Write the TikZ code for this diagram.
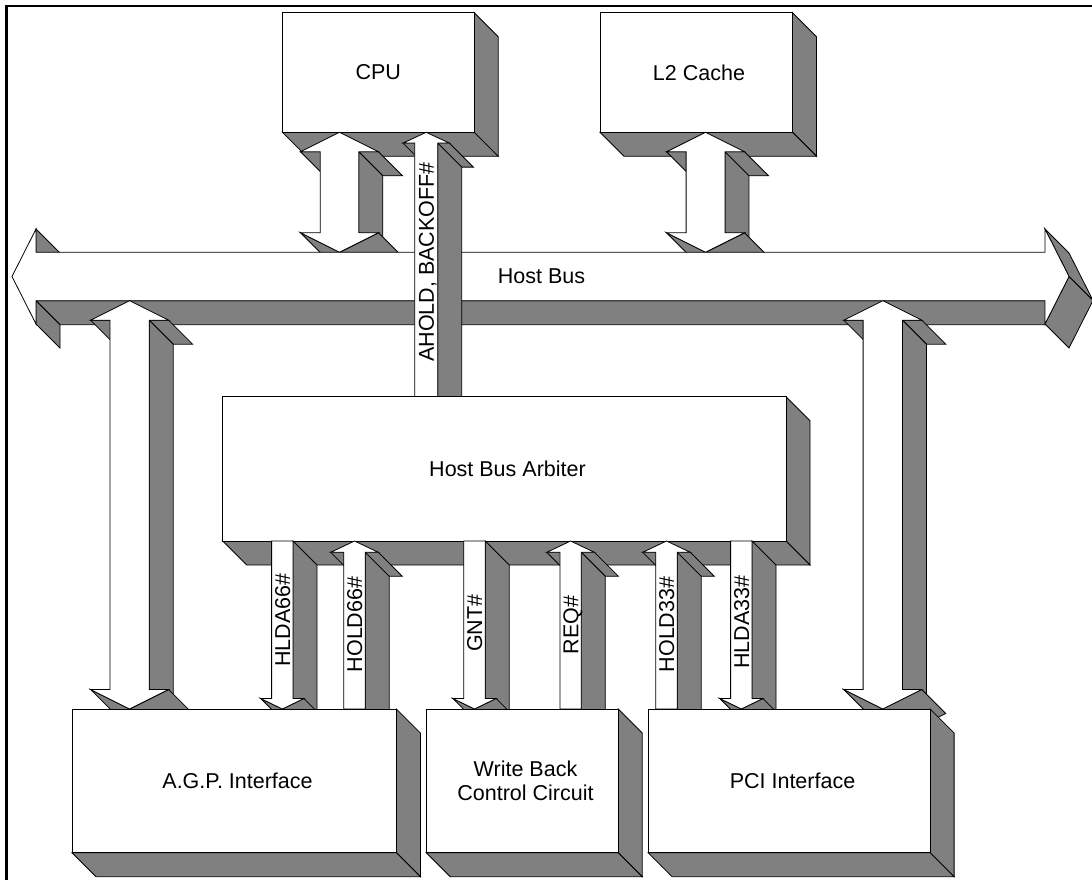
\documentclass[tikz,border=0pt]{standalone}
\usepackage{fontspec}
\setmainfont{Liberation Sans}
\definecolor{shadegray}{RGB}{128,128,128}
\tikzset{
  face/.style={fill=shadegray, draw=black, line width=0.8pt, line join=miter},
  front/.style={fill=white, draw=black, line width=0.8pt, line join=miter},
  lbl/.style={font=\fontsize{21.5}{24.3}\selectfont, inner sep=0pt, align=center},
  rot/.style={lbl, rotate=90, text height=15.4pt, text depth=0pt},
}
\def\dd{24}
% extruded box: x0 y0 x1 y1
\newcommand\BoxX[4]{%
  \filldraw[face] (#3,#2) -- ({#3+\dd},{#2+\dd}) -- ({#3+\dd},{#4+\dd}) -- (#3,#4) -- cycle;
  \filldraw[face] (#1,#4) -- (#3,#4) -- ({#3+\dd},{#4+\dd}) -- ({#1+\dd},{#4+\dd}) -- cycle;
  \filldraw[front] (#1,#2) rectangle (#3,#4);
}
% double vertical arrow: cx ytop ybot w h L
\newcommand\ArrDbl[6]{%
  \filldraw[face] ({#1-#5},{#2+#6}) -- ({#1-#4},{#2+#6}) -- ({#1-#4+\dd},{#2+#6+\dd}) -- ({#1-#5+\dd},{#2+#6+\dd}) -- cycle;
  \filldraw[face] ({#1+#4},{#2+#6}) -- ({#1+#5},{#2+#6}) -- ({#1+#5+\dd},{#2+#6+\dd}) -- ({#1+#4+\dd},{#2+#6+\dd}) -- cycle;
  \filldraw[face] ({#1+#4},{#2+#6}) -- ({#1+#4},{#3-#6}) -- ({#1+#4+\dd},{#3-#6+\dd}) -- ({#1+#4+\dd},{#2+#6+\dd}) -- cycle;
  \filldraw[face] ({#1-#5},{#3-#6}) -- (#1,#3) -- ({#1+\dd},{#3+\dd}) -- ({#1-#5+\dd},{#3-#6+\dd}) -- cycle;
  \filldraw[face] (#1,#3) -- ({#1+#5},{#3-#6}) -- ({#1+#5+\dd},{#3-#6+\dd}) -- ({#1+\dd},{#3+\dd}) -- cycle;
  \filldraw[front] (#1,#2) -- ({#1+#5},{#2+#6}) -- ({#1+#4},{#2+#6}) -- ({#1+#4},{#3-#6}) -- ({#1+#5},{#3-#6}) -- (#1,#3) -- ({#1-#5},{#3-#6}) -- ({#1-#4},{#3-#6}) -- ({#1-#4},{#2+#6}) -- ({#1-#5},{#2+#6}) -- cycle;
}
% up arrow: cx ytop ybot w h L
\newcommand\ArrUp[6]{%
  \filldraw[face] ({#1-#5},{#2+#6}) -- ({#1-#4},{#2+#6}) -- ({#1-#4+\dd},{#2+#6+\dd}) -- ({#1-#5+\dd},{#2+#6+\dd}) -- cycle;
  \filldraw[face] ({#1+#4},{#2+#6}) -- ({#1+#5},{#2+#6}) -- ({#1+#5+\dd},{#2+#6+\dd}) -- ({#1+#4+\dd},{#2+#6+\dd}) -- cycle;
  \filldraw[face] ({#1+#4},{#2+#6}) -- ({#1+#4},#3) -- ({#1+#4+\dd},{#3+\dd}) -- ({#1+#4+\dd},{#2+#6+\dd}) -- cycle;
  \filldraw[front] (#1,#2) -- ({#1+#5},{#2+#6}) -- ({#1+#4},{#2+#6}) -- ({#1+#4},#3) -- ({#1-#4},#3) -- ({#1-#4},{#2+#6}) -- ({#1-#5},{#2+#6}) -- cycle;
}
% down arrow: cx ytop ybot w h L
\newcommand\ArrDown[6]{%
  \filldraw[face] ({#1+#4},#2) -- ({#1+#4},{#3-#6}) -- ({#1+#4+\dd},{#3-#6+\dd}) -- ({#1+#4+\dd},{#2+\dd}) -- cycle;
  \filldraw[face] ({#1-#5},{#3-#6}) -- (#1,#3) -- ({#1+\dd},{#3+\dd}) -- ({#1-#5+\dd},{#3-#6+\dd}) -- cycle;
  \filldraw[face] (#1,#3) -- ({#1+#5},{#3-#6}) -- ({#1+#5+\dd},{#3-#6+\dd}) -- ({#1+\dd},{#3+\dd}) -- cycle;
  \filldraw[front] ({#1-#4},#2) -- ({#1+#4},#2) -- ({#1+#4},{#3-#6}) -- ({#1+#5},{#3-#6}) -- (#1,#3) -- ({#1-#5},{#3-#6}) -- ({#1-#4},{#3-#6}) -- cycle;
}
\begin{document}
\begin{tikzpicture}[x=1pt,y=-1pt]
\useasboundingbox (0,0) rectangle (1092,880);
\clip (0,0) rectangle (1092,880);
\fill[white] (0,0) rectangle (1092,880);

% top boxes
\BoxX{282.4}{12.7}{474.2}{132.3}
\BoxX{600}{12.7}{792.5}{132.3}
% arrows between top boxes and bus
\ArrDbl{339.5}{132.3}{252.3}{19.3}{39}{19.5}
\ArrDbl{705.5}{132.3}{252.3}{19.4}{39}{19.5}

% host bus
\filldraw[face] (36,229) -- (36,252.3) -- (60,276.3) -- (60,253) -- cycle;
\filldraw[face] (36,300.7) -- (1045,300.7) -- (1069,324.7) -- (60,324.7) -- cycle;
\filldraw[face] (36,300.7) -- (36,324) -- (60,348) -- (60,324.7) -- cycle;
\filldraw[face] (1045,229) -- (1069,276.5) -- (1093,300.5) -- (1069,253) -- cycle;
\filldraw[face] (1069,276.5) -- (1045,324) -- (1069,348) -- (1093,300.5) -- cycle;
\filldraw[front] (12,276.5) -- (36,229) -- (36,252.3) -- (1045,252.3) -- (1045,229) -- (1069,276.5) -- (1045,324) -- (1045,300.7) -- (36,300.7) -- (36,324) -- cycle;

% AHOLD, BACKOFF# arrow
\ArrUp{426.2}{132.3}{396.7}{11.5}{23.2}{10.8}
% big side arrows
\ArrDbl{129.6}{300.7}{709}{19.6}{39}{19.5}
\ArrDbl{882.8}{300.7}{709}{19.7}{39}{19.5}

% arbiter
\BoxX{222.7}{396.7}{786}{541}

% control arrows
\ArrDown{282.3}{541}{709}{10.7}{21.6}{10.5}
\ArrUp{354.5}{541}{709}{10.7}{23.8}{11.3}
\ArrDown{474.5}{541}{709}{10.7}{21.6}{10.5}
\ArrUp{570.6}{541}{709}{10.7}{23.8}{11.3}
\ArrUp{666.5}{541}{709}{10.7}{23.8}{11.3}
\ArrDown{741.3}{541}{709}{10.7}{21.6}{10.5}

% bottom boxes
\BoxX{72}{709}{396.4}{852.7}
\BoxX{426.2}{709}{618.2}{852.7}
\BoxX{648.1}{709}{930.1}{852.7}

% texts
\node[lbl] (cpu) at (378.3,72.5) {CPU};
\node[lbl] (l2) at (699,72.5) {L2 Cache};
\node[lbl] (hb) at (541.5,276.5) {Host Bus};
\node[lbl] (arb) at (507.5,468.9) {Host Bus Arbiter};
\node[lbl] (agp) at (237.5,780.9) {A.G.P. Interface};
\node[lbl] (wb) at (525.5,780.5) {Write Back\\Control Circuit};
\node[lbl] (pci) at (792.5,780.9) {PCI Interface};

\node[rot] (ahold) at (426.2,262) {AHOLD, BACKOFF\#};
\node[rot] (hlda66) at (282.3,620) {HLDA66\#};
\node[rot] (hold66) at (354.5,624.4) {HOLD66\#};
\node[rot] (gnt) at (474.5,623.3) {GNT\#};
\node[rot] (req) at (570.6,625) {REQ\#};
\node[rot] (hold33) at (666.5,624.4) {HOLD33\#};
\node[rot] (hlda33) at (741.3,622) {HLDA33\#};

% frame (left and top edges visible)
\draw[line width=2.4pt] (6.3,900) -- (6.3,6.2) -- (1100,6.2);
\end{tikzpicture}
\end{document}
